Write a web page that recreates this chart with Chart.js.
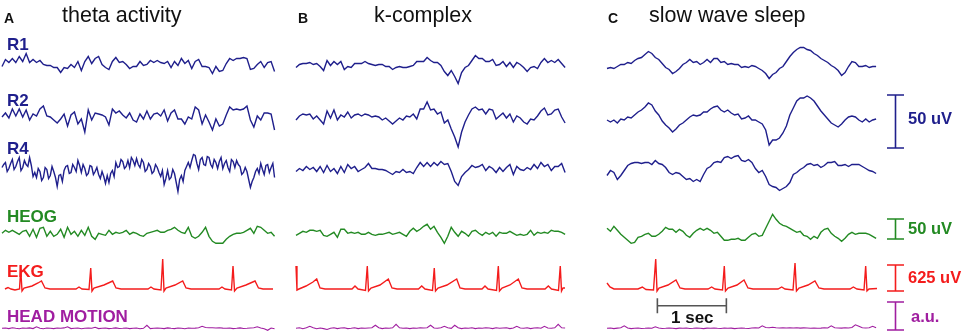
<!DOCTYPE html>
<html>
<head>
<meta charset="utf-8">
<script src="https://cdn.jsdelivr.net/npm/chart.js@4.4.0/dist/chart.umd.min.js"></script>
<style>
  body { margin: 0; background: #fff; }
  #wrap { position: relative; width: 964px; height: 336px; overflow: hidden; }
  #eeg { position: absolute; left: 0; top: 0; }
  .lbl { position: absolute; white-space: nowrap; line-height: 1; font-family: "Liberation Sans", Arial, sans-serif; }
</style>
</head>
<body>
<div id="wrap"><canvas id="eeg" width="964" height="336"></canvas></div>
<script>
// --- TRACE DATA (deflection from each row's baseline, sampled at FS) ---
const FS = 20;
const FS_R4A = 40; // the noisy R4 trace in panel A is read at twice the rate

// A: theta activity
const r1A = [-2,5,2,6,2,8,3,11,2,5, 2,4,0,-1,-1,-3,-3,-8,-3,-4, 0,-3,3,-6,3,8,1,6,8,0, -3,-5,3,7,2,3,0,-4,-2,-2, 3,-1,0,4,2,4,2,1,3,-3, 3,-1,6,1,4,-4,3,5,-2,-2, -3,-9,-2,-7,-6,1,6,4,6,6, 7,6,-5,-4,0,3,-3,2,3,-7];
const r2A = [0,4,-1,8,1,8,0,7,-3,3, 1,8,11,1,0,-3,-6,-2,3,-9, 2,5,-7,-2,-15,7,-3,4,3,2, 0,-8,8,4,6,2,-1,4,-3,-5, 3,-2,6,-2,3,4,1,7,-4,4, 7,-2,-2,-7,0,-2,10,7,-7,2, -5,-13,-2,-9,-7,2,10,7,8,7, 8,11,-3,-10,1,-3,4,4,3,-13];
const r4A = [2,5, 7,-2, 1,6, 10,0, 3,8, 12,-1, 2,9, 5,3, 12,4, -7,-3,
             -8,1, -2,-11, -8,2, 0,-9, -6,3, -2,-8, -17,-6, -5,-12, -1,3, 4,-4,
             -3,5, 2,-2, 9,4, -3,5, 1,-6, -4,4, 3,-5, -2,2, -5,-9, -2,-7,
             -14,-6, -13,-4, -1,-7, 7,2, 3,10, 8,1, 3,9, 2,12, 9,4, 11,5,
             2,10, 7,-2, 0,6, 3,-4, -2,5, 2,-3, -7,-1, -15,-9, -1,-10, -8,0,
             -4,-13, -22,-10, -6,-12, -1,3, 7,2, 9,15, 14,6, 0,10, 12,5, 4,13,
             12,5, 2,10, 7,1, 8,12, 1,6, 9,2, -2,10, 8,2, 9,5, 3,-5,
             -3,2, -2,-10, -18,-12, -8,-2, 1,-4, 6,0, -5,4, 5,-3, 2,6, -8];
const heogA = [0,3,1,3,1,-1,2,3,-3,4, -4,5,6,-3,2,-3,-1,4,-4,6, -1,2,-3,3,-2,6,-3,-6,0,-1, -2,3,-1,1,0,1,3,-1,1,0, -2,-3,0,1,2,3,1,1,3,4, 6,3,1,0,6,-3,-5,-3,1,6, -3,-8,-10,-10,-10,-6,-3,-1,0,0, 1,3,5,0,7,6,3,0,1,-3];
const motA = [0,0.3,-0.3,0.5,0,-0.4,0.3,0,0.4,-0.3, 1.5,0,-0.4,0.3,0,-0.3,0.3,0,0.4,1.5, -0.3,0,0.3,-0.4,0,0.3,0,1,-0.3,0, 0.3,-0.3,0,0.4,-0.2,0,0.3,-0.3,0,0.3, -0.4,0,3,-0.3,0,0.3,0,-0.3,0.4,0, -0.3,0.3,0,-0.4,0.3,0,0.2,0.6,2,0.8, 0.5,0.6,0.3,0.5,0.2,0,0.3,-0.3,0,0.4, -0.2,0,0.3,0.5,1.5,0.3,-0.5,-2,0.3,-0.4];
// EKG is kept as vertices (seconds from panel start, deflection)
const ekgAt = [0.043,0.087,0.130,0.188,0.254,0.271,0.290,0.319,0.435,0.522,0.572,0.623,0.696, 1.072,1.116,1.159,1.261,1.286,1.304,1.333,1.478,1.604,1.652,1.725, 2.116,2.159,2.203,2.304,2.329,2.348,2.377,2.507,2.619,2.667,2.739, 3.145,3.188,3.232,3.326,3.348,3.370,3.406,3.536,3.667,3.717,3.783,3.928];
const ekgAv = [0,1.5,0,-1,0,20,-2,1,3,6,8,1,0, 0,2,0,-0.5,21,-2,1,4,8,1,0, 0,2,0,-1,30,-2,1,4,8,1,0, 0,2,0,-1,23,-2,1,4,8,1,0,0];

// B: k-complex
const r1B = [-3,0,1,1,2,0,1,-2,-6,4, -1,3,0,3,-5,-2,-3,1,1,1, 3,1,0,-1,0,0,-2,-2,-5,-3, -2,-3,-3,-2,-1,3,3,3,7,4, 2,2,-1,-7,-11,-6,-12,-19,-8,-3, -1,4,9,6,6,3,3,5,-1,0, 3,-2,2,-3,2,0,-3,-7,-3,-2, -4,2,6,2,4,2,5,1,-3];
const r2B = [-3,1,3,2,3,-2,1,-3,-7,6, -1,7,-3,2,0,5,-1,2,3,1, 3,2,0,1,0,-3,-1,-4,-7,-4, -1,-3,1,0,3,-2,8,8,15,7, 8,3,5,-6,-3,-12,-20,-30,-15,-5, 2,8,10,7,8,3,8,7,-2,1, 4,-1,3,-5,1,-1,-5,-7,-2,-3, 1,6,9,2,3,7,8,0,-6];
const r4B = [-2,1,-1,3,0,2,-2,3,-3,4, -2,1,-4,3,-3,5,1,3,-2,0, 2,6,1,1,0,0,-1,-3,-5,-2, -3,0,-3,-2,-4,2,7,3,7,3, 7,4,8,5,6,-2,-12,-16,-7,-3, 0,4,2,3,5,-1,3,1,-3,2, -2,2,5,-5,3,0,-1,2,0,5, 1,7,3,5,-1,3,3,6,-3];
const heogB = [-2,0,2,1,3,3,2,3,-2,-3, -1,1,-4,4,4,0,1,0,1,-1, -1,1,-1,-2,-1,-1,0,1,-1,0, 1,-1,-3,2,5,2,4,7,9,4, 7,1,-4,-10,-3,6,1,-3,2,0, -3,2,3,0,-2,1,-1,1,-3,1, 0,0,2,0,-2,-1,-2,-1,3,-2, 1,0,1,0,3,2,2,1,-1];
const motB = [0,0.5,-0.5,0.5,2,0.5,-0.5,0.3,-0.3,-1.2, 0,0.5,-0.3,0.3,0.5,-0.3,0,0.5,-0.3,0.3, 0,0.3,0.5,3,0.5,-0.3,0.3,0,0.5,4, 0.5,0,0.3,-0.3,0.3,0,0.5,0.3,0.5,3, 0.3,0,0.5,2,0.5,0,3,0.5,-0.3,0.3, 0,0.5,-0.3,0.3,0,0.5,0.3,-0.3,0.5,0, 0.3,0.5,-0.3,0.3,2,0.3,0,0.5,-0.3,0.3, 0.5,0,2,0.3,0,0.5,4,0.5,0.3];
const ekgBt = [0.000,0.014,0.043,0.145,0.246,0.300,0.348,0.420, 0.812,0.855,0.899,1.007,1.033,1.051,1.087,1.217,1.338,1.391,1.464, 1.775,1.822,1.870,1.978,2.004,2.022,2.058,2.188,2.329,2.377,2.449, 2.696,2.739,2.783,2.906,2.932,2.949,2.986,3.101,3.222,3.275,3.348, 3.609,3.657,3.703,3.804,3.830,3.848,3.870,3.899];
const ekgBv = [23,-1,0,3,7,10,1,0, 0,3,0,-1.5,23,-2,1,4,10,1,0, 0,3,0,-1.5,21,-2,1,4,10,1,0, 0,3,0,-1.5,23,-2,1,4,10,1,0, 0,3,0,-1.5,23,-2,1,1];

// C: slow wave sleep
const r1C = [-4,-3,-4,-2,0,0,2,1,4,6, 7,10,13,11,7,5,1,-3,-5,-9, -7,-4,0,2,5,2,3,0,2,5, 2,6,6,2,3,0,1,0,0,-3, -2,-3,-1,-2,-4,-6,-9,-14,-10,-8, -4,-2,3,8,12,15,17,17,15,14, 11,9,6,4,2,-1,-3,-6,-11,-8, -2,3,2,-2,-2,-1,-3,-2,-2];
const r2C = [-3,-5,-3,-6,-2,-3,0,-1,2,5, 7,10,14,12,6,2,-4,-8,-11,-15, -12,-8,-6,-3,0,2,1,2,5,5, 8,10,11,7,5,7,4,2,3,-2, -1,1,-3,-3,-5,-7,-13,-28,-23,-23, -21,-16,-9,2,9,16,19,19,21,19, 16,11,6,2,-2,-6,-8,-10,-7,-3, 0,1,0,-3,-5,-2,-5,-3,-2];
const r4C = [-6,-1,-3,-10,-6,-1,4,6,7,7, 6,7,7,5,9,6,5,2,-3,-5, -3,-4,-7,-10,-9,-12,-10,-12,-5,1, 3,7,8,7,12,13,11,13,14,9, 8,10,7,1,-3,-1,-7,-15,-17,-18, -21,-19,-17,-13,-5,-3,0,2,5,6, 4,5,2,4,7,7,8,4,4,5, 3,5,5,5,3,1,-1,-2,-4];
const heogC = [5,2,7,3,-1,-4,-7,-10,-9,-4, -3,-1,0,-3,-3,-1,2,6,4,4, 1,4,2,-2,-4,0,3,5,3,5, 3,0,1,-3,-7,-7,-6,-6,-5,-7, -7,-4,-1,0,-3,-2,5,12,19,14, 10,8,7,5,3,1,2,-2,-3,-6, -3,-5,1,4,5,0,-3,-5,-8,-5, -1,1,-1,0,0,0,-1,-3,-5];
const motC = [0,0.3,-0.3,0.2,0.5,2.5,0.3,-0.3,0,0.3, -0.2,0,0.3,0,1.5,0.3,-0.2,0,0.3,0, -0.3,0.2,0,0.3,-0.2,0,0.3,0,-0.3,0.2, 0,0.3,0,-0.2,0.3,0,0.2,-0.3,0,0.3, 0,-0.2,0.3,0.5,0.3,2.5,0.8,0.5,1,0.5, 0.3,0.5,0.3,0.6,0.3,0.5,0.2,0.4,0.3,0, 0.3,0,0.2,0.5,0.3,2.5,0.5,0.3,0.2,0.5, 0.3,0.8,3.5,2,0.5,0.3,0.5,2,0.5];
const ekgCt = [0.000,0.043,0.101,0.449,0.512,0.565,0.674,0.706,0.725,0.754,0.884,1.000,1.058,1.130, 1.464,1.517,1.565,1.674,1.700,1.717,1.754,1.884,1.986,2.043,2.116, 2.478,2.532,2.580,2.696,2.725,2.746,2.783,2.913,3.014,3.072,3.145, 3.522,3.570,3.623,3.725,3.749,3.768,3.797,3.913];
const ekgCv = [6,2,0,0,2,-0.5,-1,30,-2,1,4,9,1,0, 0,2,0,-1,23,-2,1,4,9,1,0, 0,2,0,-1,26,-2,1,4,8,1,0, 0,2,0,-1,23,-2,0,0.5];

// scale bars (in each row's units)
const barRows = ['R2', 'HEOG', 'EKG', 'MOT'];
const barLo = [-31, -5.7, -2, -1.7];
const barHi = [22, 14.3, 24, 26.3];
const secBarStart = 0.73; // seconds into panel C
const secBarLen = 1;

// --- LAYOUT ---
const SEC_PX = 69;
const panelLeftPx = [2, 296, 607];
const rowIds = ['R1', 'R2', 'R4', 'HEOG', 'EKG', 'MOT'];
const rowBase = [64.5, 117, 169.5, 233.3, 289, 328.3];
const NAVY = '#1f1f8c', GREEN = '#238a23', RED = '#f41c1c', PURPLE = '#a01ea0';
const rowColor = { R1: NAVY, R2: NAVY, R4: NAVY, HEOG: GREEN, EKG: RED, MOT: PURPLE };
const barXPx = 895.5, barCapPx = 8.5;
const axisId = id => 'y' + id; // ids must start with "y" or Chart.js guesses the axis

const panels = [
    { R1: r1A, R2: r2A, R4: r4A, HEOG: heogA, MOT: motA, ekgT: ekgAt, ekgV: ekgAv, fs: { R4: FS_R4A } },
    { R1: r1B, R2: r2B, R4: r4B, HEOG: heogB, MOT: motB, ekgT: ekgBt, ekgV: ekgBv },
    { R1: r1C, R2: r2C, R4: r4C, HEOG: heogC, MOT: motC, ekgT: ekgCt, ekgV: ekgCv },
];

const labels = [
    // text, left, baseline, size, bold, colour
    ['A', 4, 23, 14, true, '#111'],
    ['theta activity', 62, 23, 21.5, false, '#111'],
    ['B', 298, 23, 14, true, '#111'],
    ['k-complex', 374, 23, 21.5, false, '#111'],
    ['C', 608, 23, 14, true, '#111'],
    ['slow wave sleep', 649, 23, 21.5, false, '#111'],
    ['R1', 7, 50, 17, true, NAVY],
    ['R2', 7, 106, 17, true, NAVY],
    ['R4', 7, 154, 17, true, NAVY],
    ['HEOG', 7, 222, 17, true, GREEN],
    ['EKG', 7, 277, 17, true, RED],
    ['HEAD MOTION', 7, 322, 17, true, PURPLE],
    ['50 uV', 908, 124, 16.5, true, NAVY],
    ['50 uV', 908, 234, 16.5, true, GREEN],
    ['625 uV', 908, 283, 16.5, true, RED],
    ['a.u.', 911, 322, 16.5, true, PURPLE],
    ['1 sec', 671, 323, 17, true, '#111'],
];

const wrap = document.getElementById('wrap');
labels.forEach(([text, x, base, size, bold, color]) => {
    const d = document.createElement('div');
    d.className = 'lbl';
    d.textContent = text;
    d.style.left = x + 'px';
    d.style.top = (base - 0.8465 * size) + 'px';
    d.style.fontSize = size + 'px';
    d.style.fontWeight = bold ? 'bold' : 'normal';
    d.style.color = color;
    wrap.appendChild(d);
});

// --- DATASETS ---
const tx = px => px / SEC_PX;
const line = (data, row, color, width) => ({
    data, yAxisID: axisId(row), borderColor: color, borderWidth: width,
    pointRadius: 0, tension: 0, fill: false, clip: false, spanGaps: false,
});

const datasets = [];
panels.forEach((p, pi) => {
    const t0 = tx(panelLeftPx[pi]);
    ['R1', 'R2', 'R4', 'HEOG', 'MOT'].forEach(id => {
        const rate = (p.fs && p.fs[id]) || FS;
        const pts = p[id].map((v, i) => ({ x: t0 + i / rate, y: v }));
        datasets.push(line(pts, id, rowColor[id], id === 'MOT' ? 1.1 : 1.4));
    });
    const ekg = p.ekgT.map((t, i) => ({ x: t0 + t, y: p.ekgV[i] }));
    datasets.push(line(ekg, 'EKG', RED, 1.4));
});

barRows.forEach((id, i) => {
    const bx = tx(barXPx), c = tx(barCapPx);
    datasets.push(line([
        { x: bx - c, y: barHi[i] }, { x: bx + c, y: barHi[i] }, { x: bx, y: null },
        { x: bx, y: barHi[i] }, { x: bx, y: barLo[i] }, { x: bx, y: null },
        { x: bx - c, y: barLo[i] }, { x: bx + c, y: barLo[i] },
    ], id, rowColor[id], 1.6));
});

// 1 sec bar under the EKG of panel C
{
    const s0 = tx(panelLeftPx[2]) + secBarStart, s1 = s0 + secBarLen;
    const yb = -16.7, yt = -9.3, yl = -24.3;
    datasets.push(line([
        { x: s0, y: yt }, { x: s0, y: yl }, { x: s0, y: null },
        { x: s0, y: yb }, { x: s1, y: yb }, { x: s1, y: null },
        { x: s1, y: yt }, { x: s1, y: yl },
    ], 'EKG', '#555', 1.6));
}

// --- SCALES: one hidden y axis per row, 1 unit = 1 px ---
const H = 336;
const scales = {
    x: { type: 'linear', axis: 'x', display: false, min: 0, max: tx(964) },
};
rowIds.forEach((id, i) => {
    scales[axisId(id)] = { type: 'linear', axis: 'y', position: 'left', display: false, min: rowBase[i] - H, max: rowBase[i] };
});

new Chart(document.getElementById('eeg'), {
    type: 'line',
    data: { datasets },
    options: {
        responsive: false,
        animation: false,
        devicePixelRatio: 1,
        layout: { padding: 0 },
        scales,
        plugins: { legend: { display: false }, tooltip: { enabled: false }, title: { display: false } },
    },
});
</script>
</body>
</html>
